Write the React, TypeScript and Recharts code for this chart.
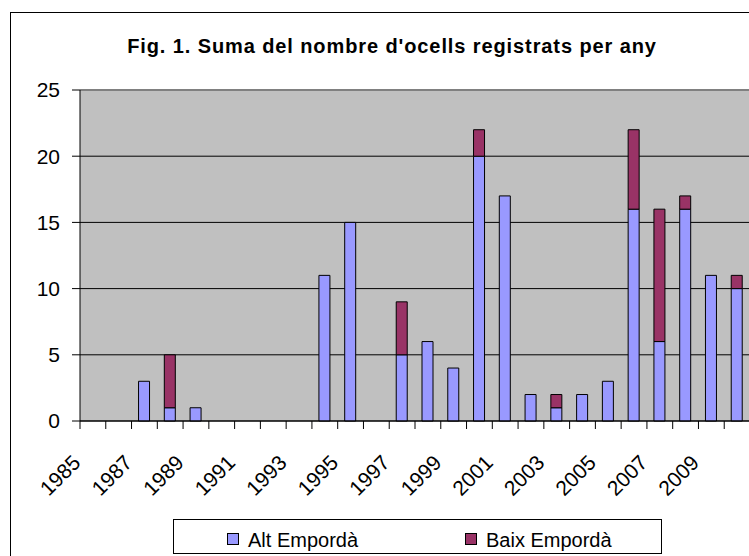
import React from "react";
import {
  BarChart,
  Bar,
  XAxis,
  YAxis,
  CartesianGrid,
  ReferenceLine,
} from "recharts";

const years = [
  "1985", "1986", "1987", "1988", "1989", "1990", "1991", "1992", "1993",
  "1994", "1995", "1996", "1997", "1998", "1999", "2000", "2001", "2002",
  "2003", "2004", "2005", "2006", "2007", "2008", "2009", "2010",
];
const altEmporda = [0, 0, 3, 1, 1, 0, 0, 0, 0, 11, 15, 0, 5, 6, 4, 20, 17, 2, 1, 2, 3, 16, 6, 16, 11, 10];
const baixEmporda = [0, 0, 0, 4, 0, 0, 0, 0, 0, 0, 0, 0, 4, 0, 0, 2, 0, 0, 1, 0, 0, 6, 10, 1, 0, 1];
const yTicks = [0, 5, 10, 15, 20, 25];

const SERIES = [
  { key: "alt", name: "Alt Empordà", color: "#9999FF" },
  { key: "baix", name: "Baix Empordà", color: "#993366" },
];

const data = years.map((year, i) => ({
  year,
  alt: altEmporda[i],
  baix: baixEmporda[i],
}));

const FONT = '"Liberation Sans", Arial, sans-serif';
const CHART_W = 751;
const PLOT_LEFT = 80;
const STEP = (CHART_W - 1 - PLOT_LEFT) / years.length;

// ticks sit on category boundaries, labels on every other year
function XTick(props: any) {
  const { x, y, payload, index } = props;
  const half = STEP / 2;
  return (
    <g>
      <line x1={x - half} x2={x - half} y1={y} y2={y + 8} stroke="#000" />
      {index % 2 === 0 && (
        <text
          transform={`translate(${x - 11}, ${y + 43}) rotate(-45)`}
          textAnchor="end"
          fontSize={21}
          fontFamily={FONT}
          fill="#000"
        >
          {payload.value}
        </text>
      )}
    </g>
  );
}

export default function App() {
  return (
    <div
      style={{
        position: "absolute",
        left: 0,
        top: 0,
        width: 749,
        height: 556,
        overflow: "hidden",
        background: "#fff",
        fontFamily: FONT,
      }}
    >
      <div
        style={{
          position: "absolute",
          left: 10,
          top: 12,
          width: 900,
          height: 700,
          border: "1px solid #000",
        }}
      />
      <div
        style={{
          position: "absolute",
          left: 0,
          top: 36,
          width: 784,
          textAlign: "center",
          fontSize: 20,
          lineHeight: "20px",
          fontWeight: "bold",
          letterSpacing: 0.9,
        }}
      >
        Fig. 1. Suma del nombre d'ocells registrats per any
      </div>
      <div style={{ position: "absolute", left: 0, top: 0 }}>
        <BarChart
          width={CHART_W}
          height={556}
          data={data}
          margin={{ top: 90, right: 1, left: 0, bottom: 0 }}
          barSize={11}
        >
          <CartesianGrid
            vertical={false}
            stroke="#000"
            fill="#C0C0C0"
            fillOpacity={1}
          />
          <ReferenceLine y={25} stroke="#808080" strokeWidth={2} />
          <XAxis
            dataKey="year"
            height={135}
            interval={0}
            tickSize={0}
            tickMargin={0}
            tickLine={false}
            axisLine={{ stroke: "#000" }}
            tick={<XTick />}
          />
          <YAxis
            width={PLOT_LEFT}
            domain={[0, 25]}
            ticks={yTicks}
            interval={0}
            tickSize={8}
            tickMargin={12}
            axisLine={{ stroke: "#000" }}
            tickLine={{ stroke: "#000" }}
            tick={{ fontSize: 21, fill: "#000", fontFamily: FONT }}
          />
          {SERIES.map((s) => (
            <Bar
              key={s.key}
              dataKey={s.key}
              name={s.name}
              stackId="a"
              fill={s.color}
              stroke="#000"
              strokeWidth={1}
              isAnimationActive={false}
            />
          ))}
        </BarChart>
      </div>
      <div
        style={{
          position: "absolute",
          left: 173,
          top: 519,
          width: 487,
          height: 33,
          border: "1px solid #000",
          background: "#fff",
        }}
      >
        {SERIES.map((s, i) => (
          <React.Fragment key={s.key}>
            <div
              style={{
                position: "absolute",
                left: i === 0 ? 53 : 291,
                top: 13,
                width: 10,
                height: 10,
                border: "1px solid #000",
                background: s.color,
              }}
            />
            <div
              style={{
                position: "absolute",
                left: i === 0 ? 74 : 312,
                top: 10,
                fontSize: 20,
                lineHeight: "20px",
                whiteSpace: "nowrap",
              }}
            >
              {s.name}
            </div>
          </React.Fragment>
        ))}
      </div>
    </div>
  );
}
